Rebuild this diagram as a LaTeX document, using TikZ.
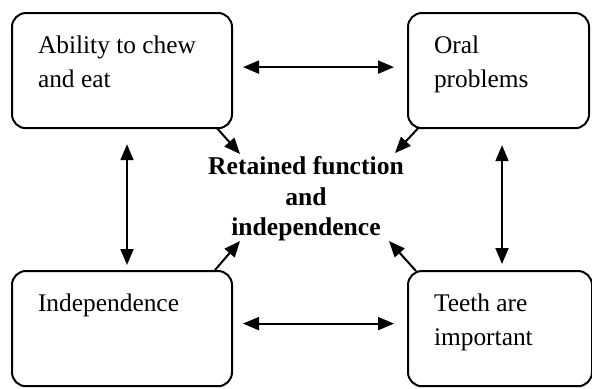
\documentclass[tikz,border=0pt]{standalone}
\usepackage{fontspec}
\setmainfont{Liberation Serif}
\usetikzlibrary{arrows.meta}
\tikzset{
    factor-box/.style = {draw, line width=1pt, rounded corners=7pt, anchor=north west, inner xsep=13pt, inner ysep=11.3pt, font=\fontsize{12.7}{17}\selectfont},
    centre-text/.style = {align=center, inner sep=0pt, font=\fontsize{12.8}{15.25}\selectfont\bfseries},
    link-arrow/.style = {line width=1pt, {Triangle[length=8pt,width=6.5pt]}-{Triangle[length=8pt,width=6.5pt]}},
    lead-arrow/.style = {line width=1pt, -{Triangle[length=8pt,width=6.5pt]}},
}
\begin{document}
\begin{tikzpicture}[x=0.5pt, y=-0.5pt]
\useasboundingbox (0,0) rectangle (592,388);
\node[factor-box] (chew) at (11,12) {\begin{minipage}[t][35pt][t]{84pt}
    Ability to chew\\
    and eat
\end{minipage}};
\node[factor-box] (oral) at (407,12) {\begin{minipage}[t][35pt][t]{64.5pt}
    Oral\\
    problems
\end{minipage}};
\node[factor-box] (indep) at (11,270) {\begin{minipage}[t][35pt][t]{84pt}
    Independence
\end{minipage}};
\node[factor-box] (teeth) at (407,270) {\begin{minipage}[t][35pt][t]{66pt}
    Teeth are\\
    important
\end{minipage}};
\node[centre-text] (retained) at (306,199) {Retained function\\ and\\ independence};

\draw[link-arrow] ([shift={(10,-3.5)}]chew.east) -- ([shift={(-13,-3.5)}]oral.west);
\draw[link-arrow] ([shift={(10,-5)}]indep.east) -- ([shift={(-13,-5)}]teeth.west);
\draw[link-arrow] ([shift={(5,15)}]chew.south) -- ([shift={(5,-5)}]indep.north);
\draw[link-arrow] ([shift={(3.5,16)}]oral.south) -- ([shift={(2,-6)}]teeth.north);

\draw[lead-arrow] ([shift={(-16,-1)}]chew.south east) -- ([shift={(-66,-45)}]retained.center);
\draw[lead-arrow] ([shift={(12,-2)}]oral.south west) -- ([shift={(89,-46)}]retained.center);
\draw[lead-arrow] ([shift={(-18,0)}]indep.north east) -- ([shift={(-66,42)}]retained.center);
\draw[lead-arrow] ([shift={(9,1)}]teeth.north west) -- ([shift={(83,42)}]retained.center);
\end{tikzpicture}
\end{document}
